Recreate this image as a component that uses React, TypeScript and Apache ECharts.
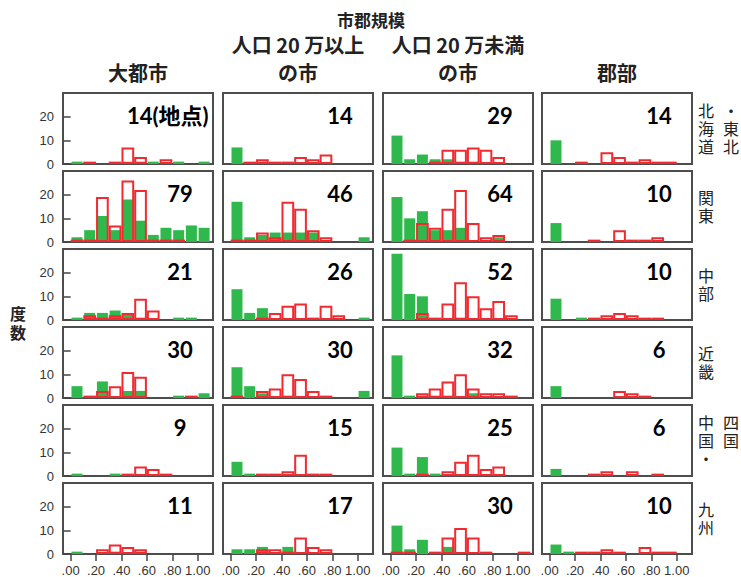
import React, { useEffect, useRef } from "react";
import * as echarts from "echarts";

// ---------- data ----------
const title = "市郡規模";
const yAxisName = "度数";
const cityTypes = ["大都市", "人口 20 万以上\nの市", "人口 20 万未満\nの市", "郡部"];
// region labels, already split into the columns in which they are printed
const regionLabelColumns = [["北海道", "・東北"], ["関東"], ["中部"], ["近畿"], ["中国・", "四国"], ["九州"]];

const binCenters = [0.05, 0.15, 0.25, 0.35, 0.45, 0.55, 0.65, 0.75, 0.85, 0.95, 1.05];
const xTicks = [0, 0.2, 0.4, 0.6, 0.8, 1.0];
const xTickLabels = [".00", ".20", ".40", ".60", ".80", "1.00"];
const yTicks = [0, 10, 20];
const yMax = 30;

// green = filled bars, red = outlined bars; one array per city type (column)
const greenHokkaidoTohoku = [
  [1, 0, 0, 0, 1, 1, 1, 0, 1, 0, 1],
  [7, 0, 1, 0, 0, 0, 0, 0, 0, 0, 0],
  [12, 2, 4, 2, 2, 1, 1, 0, 0, 0, 0],
  [10, 0, 0, 0, 0, 0, 0, 0, 0, 0, 0],
];
const redHokkaidoTohoku = [
  [0, 1, 0, 1, 7, 3, 0, 2, 0, 0, 0],
  [0, 1, 2, 1, 1, 3, 2, 4, 0, 0, 0],
  [0, 0, 0, 1, 6, 6, 7, 6, 3, 0, 0],
  [0, 0, 1, 0, 5, 3, 1, 2, 1, 1, 0],
];
const greenKanto = [
  [2, 5, 11, 5, 18, 9, 3, 6, 5, 7, 6],
  [17, 2, 3, 4, 4, 4, 4, 0, 0, 0, 2],
  [19, 10, 13, 5, 5, 6, 0, 0, 2, 0, 0],
  [8, 0, 0, 0, 0, 0, 0, 0, 0, 0, 0],
];
const redKanto = [
  [1, 1, 19, 7, 26, 22, 1, 1, 1, 0, 0],
  [1, 1, 4, 2, 17, 14, 5, 2, 0, 0, 0],
  [0, 1, 8, 6, 14, 22, 8, 2, 3, 0, 0],
  [0, 0, 0, 1, 0, 5, 1, 1, 2, 0, 0],
];
const greenChubu = [
  [1, 3, 3, 4, 3, 1, 0, 0, 1, 1, 0],
  [13, 3, 5, 0, 0, 0, 0, 0, 0, 0, 1],
  [28, 11, 10, 0, 0, 1, 0, 0, 0, 0, 0],
  [9, 0, 1, 0, 0, 0, 0, 0, 0, 0, 0],
];
const redChubu = [
  [0, 2, 1, 2, 3, 9, 4, 0, 0, 0, 0],
  [0, 0, 1, 3, 6, 7, 1, 6, 2, 0, 0],
  [0, 0, 3, 1, 7, 16, 10, 5, 8, 2, 0],
  [0, 0, 0, 1, 2, 3, 2, 1, 1, 0, 0],
];
const greenKinki = [
  [5, 0, 7, 0, 3, 3, 0, 0, 1, 0, 2],
  [13, 5, 2, 0, 1, 0, 0, 0, 0, 0, 3],
  [18, 1, 1, 1, 1, 0, 2, 0, 0, 0, 0],
  [5, 0, 0, 0, 0, 0, 0, 0, 0, 0, 0],
];
const redKinki = [
  [0, 1, 3, 5, 11, 9, 0, 0, 0, 1, 0],
  [1, 0, 3, 4, 10, 8, 3, 1, 0, 0, 0],
  [0, 0, 2, 4, 7, 10, 4, 2, 2, 1, 0],
  [0, 0, 0, 0, 0, 3, 2, 1, 0, 0, 0],
];
const greenChugokuShikoku = [
  [1, 0, 0, 1, 0, 0, 0, 0, 0, 0, 0],
  [6, 1, 0, 0, 0, 0, 0, 0, 0, 0, 0],
  [12, 1, 8, 1, 0, 0, 0, 0, 0, 0, 0],
  [3, 0, 0, 0, 0, 0, 0, 0, 0, 0, 0],
];
const redChugokuShikoku = [
  [0, 0, 0, 0, 1, 4, 3, 1, 0, 0, 0],
  [0, 0, 1, 1, 2, 9, 1, 1, 0, 0, 0],
  [0, 0, 1, 0, 2, 6, 9, 3, 4, 0, 0],
  [0, 0, 0, 1, 2, 0, 2, 0, 1, 0, 0],
];
const greenKyushu = [
  [1, 0, 0, 1, 0, 1, 0, 0, 0, 0, 0],
  [2, 2, 3, 0, 3, 0, 0, 0, 0, 0, 0],
  [12, 2, 6, 0, 3, 0, 0, 0, 0, 0, 0],
  [4, 1, 0, 0, 0, 0, 0, 0, 0, 0, 0],
];
const redKyushu = [
  [0, 0, 2, 4, 3, 2, 0, 0, 0, 0, 0],
  [0, 0, 2, 2, 1, 7, 3, 2, 0, 0, 0],
  [1, 1, 0, 1, 7, 11, 7, 1, 0, 0, 1],
  [0, 0, 1, 1, 2, 1, 0, 3, 1, 1, 0],
];
const countLabels = [
  ["14(地点)", "14", "29", "14"],
  ["79", "46", "64", "10"],
  ["21", "26", "52", "10"],
  ["30", "30", "32", "6"],
  ["9", "15", "25", "6"],
  ["11", "17", "30", "10"],
];

const greenRows = [greenHokkaidoTohoku, greenKanto, greenChubu, greenKinki, greenChugokuShikoku, greenKyushu];
const redRows = [redHokkaidoTohoku, redKanto, redChubu, redKinki, redChugokuShikoku, redKyushu];

// ---------- layout / style ----------
const colLeft = [63, 223, 383, 542];
const rowTop = [93, 171, 249, 327, 405, 483];
const panelW = 150;
const panelH = 71;
const X_MIN = -0.06;
const X_MAX = 1.12;
const GREEN = "#2fb84b";
const RED = "#f22a30";
const CJK = '"Noto Sans CJK JP", sans-serif';

function buildOption() {
  const grid: any[] = [];
  const xAxis: any[] = [];
  const yAxis: any[] = [];
  const series: any[] = [];
  const graphic: any[] = [];

  greenRows.forEach((row, r) => {
    row.forEach((greens, c) => {
      const reds = redRows[r][c];
      const gi = grid.length;
      const isBottom = r === greenRows.length - 1;
      const isLeft = c === 0;
      grid.push({
        left: colLeft[c], top: rowTop[r], width: panelW, height: panelH,
        show: true, borderColor: "#4d4d4d", borderWidth: 2, backgroundColor: "#fff",
      });
      xAxis.push({
        gridIndex: gi, type: "value", min: X_MIN, max: X_MAX,
        axisLine: { show: false }, splitLine: { show: false },
        axisTick: { show: isBottom, customValues: xTicks, length: 7, lineStyle: { color: "#444", width: 1.5 } },
        axisLabel: {
          show: isBottom, customValues: xTicks, margin: 10,
          color: "#333", fontSize: 13, fontFamily: '"Liberation Sans", Arial, sans-serif',
          formatter: (v: number) => {
            const i = xTicks.findIndex((t) => Math.abs(t - v) < 1e-6);
            return i >= 0 ? xTickLabels[i] : "";
          },
        },
      });
      xAxis.push({ gridIndex: gi, type: "value", min: X_MIN, max: X_MAX, show: false });
      yAxis.push({
        gridIndex: gi, type: "value", min: 0, max: yMax,
        axisLine: { show: false }, splitLine: { show: false },
        axisTick: { show: isLeft, customValues: yTicks, length: 7, lineStyle: { color: "#444", width: 1.5 } },
        axisLabel: {
          show: isLeft, customValues: yTicks, margin: 9,
          color: "#333", fontSize: 13, fontFamily: '"Liberation Sans", Arial, sans-serif',
        },
      });
      series.push({
        type: "bar", xAxisIndex: 2 * gi, yAxisIndex: gi, barWidth: 11, silent: true,
        itemStyle: { color: GREEN },
        data: binCenters.map((x, i) => [x, greens[i]]).filter((d) => d[1] > 0),
      });
      series.push({
        type: "bar", xAxisIndex: 2 * gi + 1, yAxisIndex: gi, barWidth: 12.7, silent: true,
        itemStyle: { color: "rgba(255,255,255,0)", borderColor: RED, borderWidth: 2 },
        data: binCenters.map((x, i) => [x, reds[i]]).filter((d) => d[1] > 0),
      });
      const label = countLabels[r][c];
      const first = r === 0 && c === 0;
      graphic.push({
        type: "text", x: first ? colLeft[c] + 64 : colLeft[c] + 117, y: rowTop[r] + 22, z: 100,
        style: {
          text: label, fill: "#000", font: `bold 22px Lato, ${CJK}`,
          align: first ? "left" : "center", verticalAlign: "middle",
        },
      });
    });
  });

  // title and column headers
  graphic.push({
    type: "text", x: 371, y: 19,
    style: { text: title, fill: "#222", font: `bold 17px ${CJK}`, align: "center", verticalAlign: "middle" },
  });
  cityTypes.forEach((name, c) => {
    const lines = name.split("\n");
    const cx = colLeft[c] + panelW / 2;
    lines.forEach((line, k) => {
      const y = 72 - (lines.length - 1 - k) * 28;
      graphic.push({
        type: "text", x: cx, y,
        style: { text: line, fill: "#222", font: `bold 20px ${CJK}`, align: "center", verticalAlign: "middle" },
      });
    });
  });
  // region labels (vertical, one character per text element)
  regionLabelColumns.forEach((cols, r) => {
    const maxLen = Math.max(...cols.map((s) => s.length));
    const lh = 18;
    const firstCenter = rowTop[r] + 35 - ((maxLen - 1) * lh) / 2;
    cols.forEach((s, k) => {
      s.split("").forEach((ch, j) => {
        graphic.push({
          type: "text", x: 706 + k * 25, y: firstCenter + j * lh,
          style: {
            text: ch, fill: "#222", font: `16px ${CJK}`, lineHeight: 16,
            align: "center", verticalAlign: "middle",
          },
        });
      });
    });
  });
  // y axis name (vertical)
  yAxisName.split("").forEach((ch, j) => {
    graphic.push({
      type: "text", x: 18, y: 313 + j * 19,
      style: {
        text: ch, fill: "#222", font: `bold 16px ${CJK}`, lineHeight: 16,
        align: "center", verticalAlign: "middle",
      },
    });
  });

  return {
    animation: false,
    backgroundColor: "#fff",
    grid, xAxis, yAxis, series, graphic,
  };
}

export default function App() {
  const ref = useRef<HTMLDivElement>(null);
  useEffect(() => {
    if (!ref.current) return;
    const chart = echarts.init(ref.current, undefined, { renderer: "svg" });
    chart.setOption(buildOption() as any);
    return () => chart.dispose();
  }, []);
  return (
    <div
      ref={ref}
      style={{ position: "absolute", left: 0, top: 0, width: 741, height: 577 }}
    />
  );
}
